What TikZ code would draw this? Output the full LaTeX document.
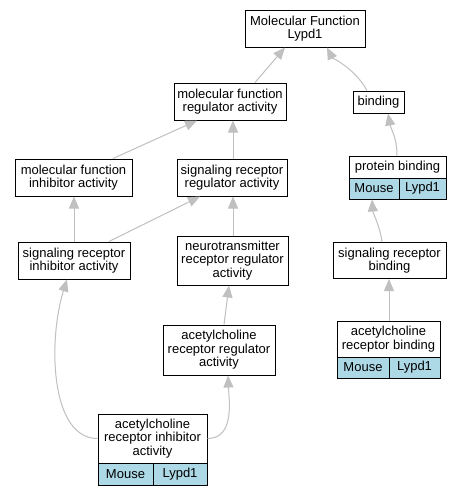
\documentclass[tikz,border=0pt]{standalone}
\usepackage{fontspec}
\setmainfont{Liberation Sans}
\usetikzlibrary{arrows.meta}
\definecolor{edgegray}{RGB}{192,192,192}
\definecolor{cellblue}{RGB}{173,216,230}
\begin{document}
\begin{tikzpicture}[x=1pt,y=-1pt,
  term/.style={draw=black, line width=1pt, fill=white, inner sep=0pt, align=center,
    font=\fontsize{13}{13.5}\selectfont},
  cell/.style={term, fill=cellblue},
  isa/.style={draw=edgegray, line width=1pt, -{Triangle[width=10pt,length=12pt]}}]
\useasboundingbox (0,0) rectangle (461,496);
\fill[white] (0,0) rectangle (461,496);

% nodes
\node[term, minimum width=120pt, minimum height=37pt] (mf) at (305,28.5) {Molecular Function\\Lypd1};
\node[term, minimum width=112pt, minimum height=37pt] (mfr) at (230,101.5) {molecular function\\regulator activity};
\node[term, minimum width=51pt, minimum height=22pt] (bind) at (378.5,102) {binding};
\node[term, minimum width=117pt, minimum height=37pt] (mfi) at (73.5,177.5) {molecular function\\inhibitor activity};
\node[term, minimum width=110pt, minimum height=37pt] (srr) at (232,177.5) {signaling receptor\\regulator activity};
\node[term, minimum width=97pt, minimum height=22pt] (pb) at (397.5,167) {protein binding};
\node[cell, minimum width=50pt, minimum height=21pt] (pbm) at (374,188.5) {Mouse};
\node[cell, minimum width=47pt, minimum height=21pt] (pbl) at (422.5,188.5) {Lypd1};
\node[term, minimum width=112pt, minimum height=37pt] (sri) at (74,260.5) {signaling receptor\\inhibitor activity};
\node[term, minimum width=111pt, minimum height=49pt] (nrr) at (232.5,260.5) {neurotransmitter\\receptor regulator\\activity};
\node[term, minimum width=113pt, minimum height=36pt] (srb) at (389.5,260.5) {signaling receptor\\binding};
\node[term, minimum width=112pt, minimum height=50pt] (acrr) at (219,350) {acetylcholine\\receptor regulator\\activity};
\node[term, minimum width=103pt, minimum height=36pt] (acrb) at (388.5,339) {acetylcholine\\receptor binding};
\node[cell, minimum width=52pt, minimum height=21pt] (acrbm) at (363,367.5) {Mouse};
\node[cell, minimum width=51pt, minimum height=21pt] (acrbl) at (414.5,367.5) {Lypd1};
\node[term, minimum width=109pt, minimum height=49pt] (acri) at (152.5,438.5) {acetylcholine\\receptor inhibitor\\activity};
\node[cell, minimum width=55pt, minimum height=22pt] (acrim) at (125.5,474) {Mouse};
\node[cell, minimum width=54pt, minimum height=22pt] (acril) at (180,474) {Lypd1};

% edges
\draw[isa] ([xshift=25pt]mfr.north) -- ([xshift=-20pt]mf.south);
\draw[isa] ([xshift=-11.5pt]bind.north) .. controls +(-12,-22) and +(5,10) .. ([xshift=22pt]mf.south);
\draw[isa] ([xshift=39.5pt]mfi.north) -- ([xshift=-33pt]mfr.south);
\draw[isa] ([xshift=1pt]srr.north) -- ([xshift=3pt]mfr.south);
\draw[isa] ([xshift=-0.5pt]pb.north) .. controls +(0,-18) and +(3,16) .. ([xshift=9.5pt]bind.south);
\draw[isa] (sri.north) -- ([xshift=0.5pt]mfi.south);
\draw[isa] ([xshift=35pt]sri.north) -- ([xshift=-32pt]srr.south);
\draw[isa] ([xshift=0.5pt]nrr.north) -- ([xshift=1pt]srr.south);
\draw[isa] ([xshift=-7.5pt]srb.north) .. controls +(-2,-16) and +(1,14) .. ([xshift=-2pt]pbm.south);
\draw[isa] ([xshift=5pt]acrr.north) -- ([xshift=-3.5pt]nrr.south);
\draw[isa] ([xshift=0.5pt]acrb.north) -- ([xshift=-0.5pt]srb.south);
\draw[isa] (acri.west) .. controls (50,438.5) and (48,340) .. ([xshift=-7pt]sri.south);
\draw[isa] (acri.east) .. controls (235,438.5) and (229,400) .. ([xshift=9pt]acrr.south);
\end{tikzpicture}
\end{document}
